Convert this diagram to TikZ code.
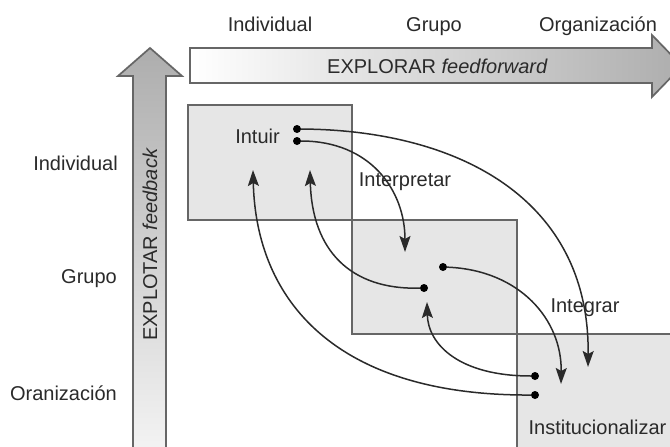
\documentclass[tikz,border=0pt]{standalone}
\usepackage{fontspec}
\setmainfont{Liberation Sans}
\usetikzlibrary{arrows.meta}
\definecolor{ink}{HTML}{2A2A2A}
\definecolor{edge}{HTML}{666666}
\definecolor{boxfill}{HTML}{E6E6E6}
\begin{document}
\begin{tikzpicture}[x=1pt,y=-1pt,
  lbl/.style={font=\fontsize{20}{24}\selectfont, text=ink, inner sep=0pt},
  zone/.style={fill=boxfill, draw=edge, line width=1.7pt},
  bigarrow/.style={draw=edge, line width=1.7pt},
  dot/.style={circle, fill=black, inner sep=0pt, minimum size=8pt},
  flow/.style={draw=ink, line width=1.5pt, -{Stealth[length=16pt,width=11pt,inset=3pt]}},
]
\useasboundingbox (0,0) rectangle (670,447);
\clip (0,0) rectangle (670,447);
\fill[white] (0,0) rectangle (670,447);

% column and row headings
\node[lbl, anchor=base] (cInd) at (270,31) {Individual};
\node[lbl, anchor=base] (cGru) at (434,31) {Grupo};
\node[lbl, anchor=base] (cOrg) at (598,31) {Organización};
\node[lbl, anchor=base east] (rInd) at (118,170) {Individual};
\node[lbl, anchor=base east] (rGru) at (117,283) {Grupo};
\node[lbl, anchor=base east] (rOrg) at (117,400) {Oranización};

% the two broad arrows
\shade[bigarrow, top color=black!32, bottom color=black!4]
  (133,460) -- (133,76) -- (118,76) -- (150,48) -- (182,76) -- (166,76) -- (166,460) -- cycle;
\shade[bigarrow, left color=white, right color=black!32]
  (190,48) -- (652,48) -- (652,35) -- (682,66) -- (652,97) -- (652,83) -- (190,83) -- cycle;
\node[lbl, anchor=base] (explorar) at (437.5,73) {EXPLORAR \textit{feedforward}};
\node[lbl, anchor=base, rotate=90] (explotar) at (157,244.5) {EXPLOTAR \textit{feedback}};

% the three levels
\draw[zone] (188,105) rectangle (352,220);
\draw[zone] (352,220) rectangle (517,334);
\draw[zone] (517,334) rectangle (680,460);

% processes
\node[lbl, anchor=base] (intuir) at (257.5,143) {Intuir};
\node[lbl, anchor=base] (interp) at (405,186) {Interpretar};
\node[lbl, anchor=base] (integ) at (585,312) {Integrar};
\node[lbl, anchor=base] (inst) at (597.5,434) {Institucionalizar};

% start points
\node[dot] (i1) at (297,129) {};
\node[dot] (i2) at (297,141) {};
\node[dot] (g1) at (443,267) {};
\node[dot] (g2) at (424,288) {};
\node[dot] (o1) at (535,376) {};
\node[dot] (o2) at (535,395) {};

% arrow ends
\coordinate (tInt) at (405,252);
\coordinate (tGup) at (427,302);
\coordinate (tOa) at (561,384);
\coordinate (tOb) at (588,367);
\coordinate (tIa) at (253,170);
\coordinate (tIb) at (310,170);

% feedforward and feedback flows
\draw[flow] (i1) .. controls (460,130) and (590,200) .. (tOb);
\draw[flow] (i2) .. controls (370,141) and (405,190) .. (tInt);
\draw[flow] (g1) .. controls (520,270) and (562,320) .. (tOa);
\draw[flow] (g2) .. controls (350,290) and (312,250) .. (tIb);
\draw[flow] (o1) .. controls (460,376) and (428,345) .. (tGup);
\draw[flow] (o2) .. controls (335,396) and (256,300) .. (tIa);
\end{tikzpicture}
\end{document}
